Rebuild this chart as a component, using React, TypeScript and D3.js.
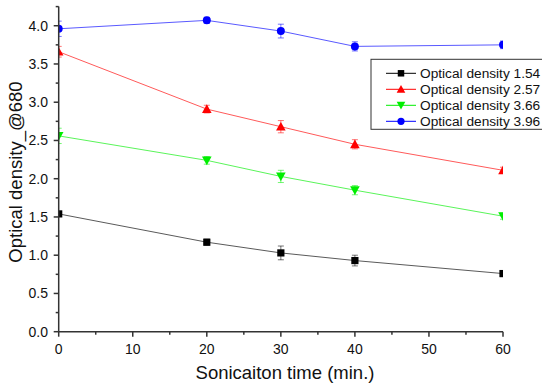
import React from "react";
import * as d3 from "d3";

const times = [0, 20, 30, 40, 60];
const seriesNames = ["Optical density 1.54", "Optical density 2.57", "Optical density 3.66", "Optical density 3.96"];
const od154 = [1.54, 1.17, 1.03, 0.93, 0.76];
const od154Err = [0.03, 0.04, 0.09, 0.07, 0.04];
const od257 = [3.66, 2.91, 2.68, 2.45, 2.11];
const od257Err = [0.07, 0.05, 0.08, 0.06, 0.04];
const od366 = [2.56, 2.24, 2.03, 1.85, 1.51];
const od366Err = [0.1, 0.05, 0.08, 0.06, 0.04];
const od396 = [3.96, 4.07, 3.93, 3.73, 3.75];
const od396Err = [0.1, 0.04, 0.09, 0.06, 0.05];
const xTicks = [0, 10, 20, 30, 40, 50, 60];
const yTicks = [0, 0.5, 1.0, 1.5, 2.0, 2.5, 3.0, 3.5, 4.0];

const colors = ["#000000", "#ff0000", "#00ee00", "#0000ff"];
const shapes = ["square", "triangle", "triangleDown", "circle"];
const values = [od154, od257, od366, od396];
const errors = [od154Err, od257Err, od366Err, od396Err];

const FONT = "'Liberation Sans', Arial, sans-serif";

function Marker({ shape, x, y, color, size = 1 }: any) {
  if (shape === "square") return <rect x={x - 3.6 * size} y={y - 3.6 * size} width={7.2 * size} height={7.2 * size} fill={color} />;
  if (shape === "circle") return <circle cx={x} cy={y} r={4 * size} fill={color} />;
  if (shape === "triangle") {
    const s = 4.8 * size;
    return <path d={`M${x},${y - s}L${x + s},${y + s * 0.8}L${x - s},${y + s * 0.8}Z`} fill={color} />;
  }
  const s = 4.8 * size;
  return <path d={`M${x},${y + s}L${x + s},${y - s * 0.8}L${x - s},${y - s * 0.8}Z`} fill={color} />;
}

export default function App() {
  const W = 542, H = 386;
  const x = d3.scaleLinear().domain([0, 60]).range([58.7, 503]);
  const y = d3.scaleLinear().domain([0, 4.25]).range([331.7, 6.6]);
  const minorX = d3.range(0, 61, 5);
  const minorY = d3.range(0, 4.26, 0.25);
  const line = d3.line<number>().x((_, i) => x(times[i])).y((d) => y(d));
  const axisColor = "#333";

  return (
    <svg width={W} height={H} style={{ position: "absolute", left: 0, top: 0, background: "#fff" }} fontFamily={FONT}>
      <defs>
        <clipPath id="plot">
          <rect x={x(0)} y={0} width={x(60) - x(0)} height={y(0)} />
        </clipPath>
      </defs>
      <g clipPath="url(#plot)">
        {values.map((vals, si) => (
          <g key={si}>
            <path d={line(vals) || ""} fill="none" stroke={colors[si]} strokeWidth={1} strokeOpacity={0.65} />
            {vals.map((v, i) => {
              const cx = x(times[i]);
              const e = errors[si][i];
              return (
                <g key={i} stroke={colors[si]} strokeOpacity={0.55} strokeWidth={1}>
                  <line x1={cx} x2={cx} y1={y(v - e)} y2={y(v + e)} />
                  <line x1={cx - 3} x2={cx + 3} y1={y(v - e)} y2={y(v - e)} />
                  <line x1={cx - 3} x2={cx + 3} y1={y(v + e)} y2={y(v + e)} />
                </g>
              );
            })}
            {vals.map((v, i) => (
              <Marker key={"m" + i} shape={shapes[si]} x={x(times[i])} y={y(v)} color={colors[si]} />
            ))}
          </g>
        ))}
      </g>

      {/* axes */}
      <g stroke={axisColor} strokeWidth={1.5}>
        <line x1={x(0)} x2={x(60)} y1={y(0)} y2={y(0)} />
        <line x1={x(0)} x2={x(0)} y1={y(0)} y2={y(4.25)} />
        {minorX.map((t) => (
          <line key={"mx" + t} x1={x(t)} x2={x(t)} y1={y(0)} y2={y(0) + (t % 10 === 0 ? 5 : 3)} />
        ))}
        {minorY.map((t) => {
          const major = Math.abs(t * 2 - Math.round(t * 2)) < 1e-6;
          return <line key={"my" + t} x1={x(0)} x2={x(0) - (major ? 5 : 3)} y1={y(t)} y2={y(t)} />;
        })}
      </g>
      <g fontSize={14} fill="#111">
        {xTicks.map((t) => (
          <text key={"xt" + t} x={x(t)} y={353.5} textAnchor="middle">{t}</text>
        ))}
        {yTicks.map((t) => (
          <text key={"yt" + t} x={48} y={y(t) + 5} textAnchor="end">{t.toFixed(1)}</text>
        ))}
      </g>
      <text x={285} y={379} textAnchor="middle" fontSize={18.5} fill="#111">Sonicaiton time (min.)</text>
      <text transform={`translate(22,172) rotate(-90)`} textAnchor="middle" fontSize={18.5} fill="#111">Optical density_@680</text>

      {/* legend */}
      <rect x={371} y={59.3} width={200} height={70} fill="#fff" stroke={axisColor} strokeWidth={1} />
      {seriesNames.map((name, i) => {
        const ly = 73.3 + i * 16;
        return (
          <g key={name}>
            <line x1={386} x2={416} y1={ly} y2={ly} stroke={colors[i]} strokeWidth={1} />
            <Marker shape={shapes[i]} x={401} y={ly} color={colors[i]} size={0.9} />
            <text x={420} y={ly + 5} fontSize={13.7} fill="#111">{name}</text>
          </g>
        );
      })}
    </svg>
  );
}
